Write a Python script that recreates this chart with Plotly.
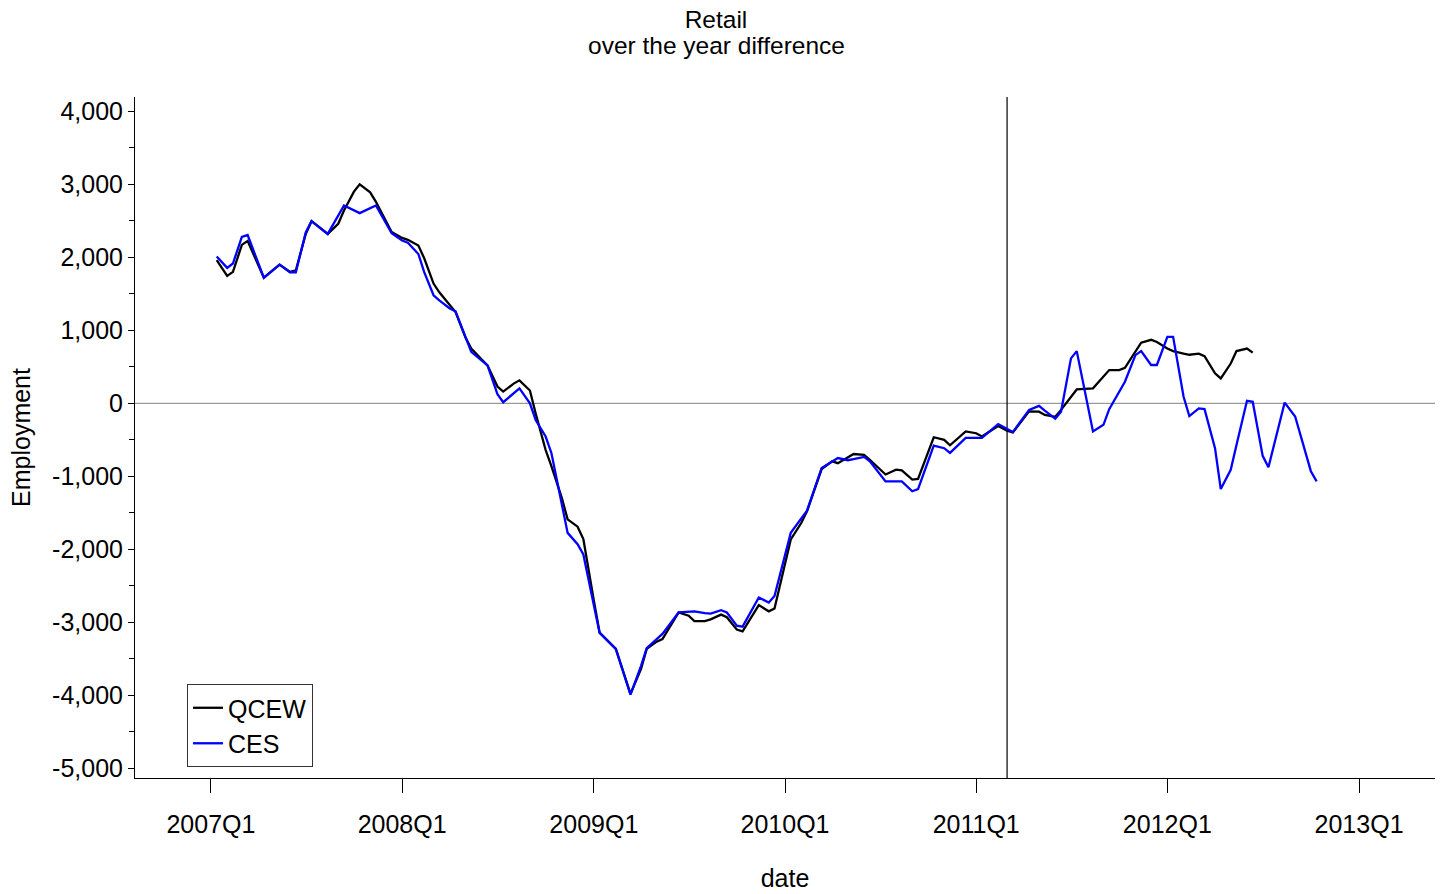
import plotly.graph_objects as go

# ---- data ----
qcew_dates = [
    "2007-01-12", "2007-02-01", "2007-02-12", "2007-03-01", "2007-03-12", "2007-04-12",
    "2007-05-12", "2007-06-01", "2007-06-12", "2007-07-01", "2007-07-12", "2007-08-12",
    "2007-09-01", "2007-09-12", "2007-10-01", "2007-10-12", "2007-11-01", "2007-11-12",
    "2007-12-12", "2008-01-01", "2008-01-12", "2008-02-01", "2008-02-12", "2008-03-01",
    "2008-03-12", "2008-04-01", "2008-04-12", "2008-05-01", "2008-05-12", "2008-06-01",
    "2008-06-12", "2008-07-01", "2008-07-12", "2008-08-01", "2008-08-12", "2008-09-01",
    "2008-09-12", "2008-10-01", "2008-10-12", "2008-11-01", "2008-11-12", "2008-12-01",
    "2008-12-12", "2009-01-01", "2009-01-12", "2009-02-12", "2009-03-12", "2009-04-01",
    "2009-04-12", "2009-05-01", "2009-05-12", "2009-06-12", "2009-07-01", "2009-07-12",
    "2009-08-01", "2009-08-12", "2009-09-01", "2009-09-12", "2009-10-01", "2009-10-12",
    "2009-11-12", "2009-12-01", "2009-12-12", "2010-01-12", "2010-02-01", "2010-02-12",
    "2010-03-12", "2010-04-01", "2010-04-12", "2010-05-12", "2010-06-01", "2010-06-12",
    "2010-07-12", "2010-08-01", "2010-08-12", "2010-09-01", "2010-09-12", "2010-10-12",
    "2010-11-01", "2010-11-12", "2010-12-12", "2011-01-01", "2011-01-12", "2011-02-12",
    "2011-03-01", "2011-03-12", "2011-04-12", "2011-05-01", "2011-05-12", "2011-06-01",
    "2011-06-12", "2011-07-12", "2011-08-12", "2011-09-12", "2011-10-01", "2011-10-12",
    "2011-11-12", "2011-12-01", "2011-12-12", "2012-01-01", "2012-01-12", "2012-02-01",
    "2012-02-12", "2012-03-01", "2012-03-12", "2012-04-01", "2012-04-12", "2012-05-01",
    "2012-05-12", "2012-06-01", "2012-06-12",
]
qcew_values = [
    1960, 1745, 1800, 2170, 2225, 1720,
    1900, 1800, 1820, 2320, 2495, 2320,
    2460, 2640, 2900, 3000, 2890, 2760,
    2345, 2265, 2240, 2160, 1990, 1640,
    1520, 1340, 1250, 900, 750, 600,
    520, 230, 160, 270, 315, 175,
    -140, -640, -860, -1300, -1590, -1690,
    -1860, -2700, -3140, -3365, -3980, -3640,
    -3365, -3265, -3230, -2865, -2910, -2985,
    -2985, -2960, -2895, -2930, -3100, -3125,
    -2765, -2850, -2810, -1865, -1640, -1480,
    -900, -795, -820, -695, -705, -775,
    -975, -910, -920, -1045, -1035, -465,
    -500, -575, -385, -410, -455, -310,
    -375, -400, -110, -115, -160, -185,
    -90, 190, 205, 455, 455, 485,
    830, 870, 840, 750, 715, 680,
    665, 680, 645, 410, 340, 545,
    715, 750, 695,
]

ces_dates = [
    "2007-01-12", "2007-02-01", "2007-02-12", "2007-03-01", "2007-03-12", "2007-04-12",
    "2007-05-12", "2007-06-01", "2007-06-12", "2007-07-01", "2007-07-12", "2007-08-12",
    "2007-09-12", "2007-10-12", "2007-11-12", "2007-12-12", "2008-01-01", "2008-01-12",
    "2008-02-01", "2008-02-12", "2008-03-01", "2008-03-12", "2008-04-01", "2008-04-12",
    "2008-05-12", "2008-06-12", "2008-07-01", "2008-07-12", "2008-08-12", "2008-09-01",
    "2008-09-12", "2008-10-01", "2008-10-12", "2008-11-01", "2008-11-12", "2008-12-01",
    "2008-12-12", "2009-01-12", "2009-02-12", "2009-03-12", "2009-04-01", "2009-04-12",
    "2009-05-12", "2009-06-12", "2009-07-12", "2009-08-01", "2009-08-12", "2009-09-01",
    "2009-09-12", "2009-10-01", "2009-10-12", "2009-11-12", "2009-12-01", "2009-12-12",
    "2010-01-12", "2010-02-12", "2010-03-12", "2010-04-12", "2010-05-01", "2010-05-12",
    "2010-06-01", "2010-06-12", "2010-07-12", "2010-08-12", "2010-09-01", "2010-09-12",
    "2010-10-12", "2010-11-01", "2010-11-12", "2010-12-12", "2011-01-12", "2011-02-12",
    "2011-03-12", "2011-04-12", "2011-05-01", "2011-05-12", "2011-06-01", "2011-06-12",
    "2011-07-01", "2011-07-12", "2011-08-12", "2011-09-01", "2011-09-12", "2011-10-12",
    "2011-11-01", "2011-11-12", "2011-12-01", "2011-12-12", "2012-01-01", "2012-01-12",
    "2012-02-01", "2012-02-12", "2012-03-01", "2012-03-12", "2012-04-01", "2012-04-12",
    "2012-05-01", "2012-05-12", "2012-06-01", "2012-06-12", "2012-07-01", "2012-07-12",
    "2012-08-12", "2012-09-01", "2012-10-01", "2012-10-12",
]
ces_values = [
    2010, 1855, 1915, 2280, 2305, 1720,
    1900, 1795, 1795, 2340, 2495, 2320,
    2710, 2605, 2710, 2330, 2230, 2200,
    2045, 1800, 1480, 1410, 1300, 1260,
    705, 520, 125, 15, 205, 0,
    -230, -455, -680, -1410, -1775, -1930,
    -2070, -3145, -3365, -3990, -3600, -3355,
    -3160, -2865, -2850, -2875, -2880, -2835,
    -2865, -3045, -3060, -2660, -2730, -2640,
    -1775, -1470, -885, -750, -780, -765,
    -735, -795, -1070, -1070, -1205, -1175,
    -580, -615, -680, -475, -475, -285,
    -395, -90, -35, -100, -210, -115,
    615, 715, -385, -295, -80, 295,
    660, 715, 525, 525, 910, 910,
    90, -175, -70, -80, -615, -1175,
    -910, -570, 35, 20, -720, -875,
    10, -180, -930, -1070,
]

x_tick_dates = ["2007-01-01", "2008-01-01", "2009-01-01", "2010-01-01",
                "2011-01-01", "2012-01-01", "2013-01-01"]
x_tick_labels = ["2007Q1", "2008Q1", "2009Q1", "2010Q1", "2011Q1", "2012Q1", "2013Q1"]
y_tick_vals = [-5000, -4000, -3000, -2000, -1000, 0, 1000, 2000, 3000, 4000]
y_tick_labels = ["-5,000", "-4,000", "-3,000", "-2,000", "-1,000", "0",
                 "1,000", "2,000", "3,000", "4,000"]
y_minor_vals = [-4500, -3500, -2500, -1500, -500, 500, 1500, 2500, 3500]
vline_date = "2011-03-01"

FONT = "Liberation Sans, Arial, Helvetica, sans-serif"

fig = go.Figure()
fig.add_trace(go.Scatter(x=qcew_dates, y=qcew_values, mode="lines", name="QCEW",
                         line=dict(color="#000000", width=2.3)))
fig.add_trace(go.Scatter(x=ces_dates, y=ces_values, mode="lines", name="CES",
                         line=dict(color="#0000ff", width=2.3)))

# zero reference line and vertical marker
fig.add_hline(y=0, line=dict(color="#808080", width=1), layer="below")
fig.add_vline(x=vline_date, line=dict(color="#000000", width=1.2), layer="below")

fig.update_layout(
    width=1442, height=894,
    margin=dict(l=135, r=7, t=97, b=116),
    paper_bgcolor="white", plot_bgcolor="white",
    font=dict(family=FONT, size=25, color="black"),
    showlegend=True,
    legend=dict(x=0.04, y=0.138, xanchor="left", yanchor="top",
                bgcolor="white", bordercolor="#333333", borderwidth=1,
                font=dict(size=25), tracegroupgap=0, itemwidth=30),
    xaxis=dict(
        type="date",
        range=["2006-08-09", "2013-05-26"],
        tickmode="array", tickvals=x_tick_dates, ticktext=x_tick_labels,
        ticks="outside", ticklen=14, tickwidth=1, tickcolor="black",
        ticklabelstandoff=10,
        showline=True, linecolor="black", linewidth=1,
        showgrid=False, zeroline=False, automargin=False,
        tickfont=dict(size=25),
        title=dict(text="date", font=dict(size=25), standoff=32),
    ),
    yaxis=dict(
        range=[-5133, 4196],
        tickmode="array", tickvals=y_tick_vals, ticktext=y_tick_labels,
        ticks="outside", ticklen=6, tickwidth=1, tickcolor="black",
        minor=dict(tickvals=y_minor_vals, ticks="outside", ticklen=5,
                   tickcolor="black", showgrid=False),
        showline=True, linecolor="black", linewidth=1,
        showgrid=False, zeroline=False, automargin=False,
        tickfont=dict(size=25),
        title=dict(text="Employment", font=dict(size=25), standoff=14),
    ),
    title=dict(text="Retail", x=716 / 1442, xanchor="center",
               y=1 - 19 / 894, yanchor="middle", font=dict(size=24.5)),
)
fig.add_annotation(text="over the year difference", xref="paper", yref="paper",
                   x=(716 - 135) / 1300, y=(778 - 45) / 681,
                   xanchor="center", yanchor="middle", showarrow=False,
                   font=dict(size=24.5))

fig.write_html("out.html",
               config={"displayModeBar": False},
               post_script="document.body.style.margin='0px';")
